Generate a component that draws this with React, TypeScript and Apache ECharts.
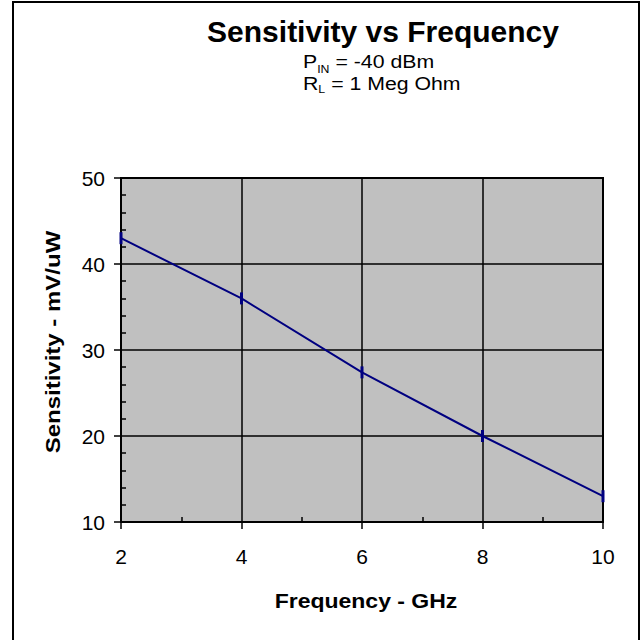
import React, { useEffect, useRef } from "react";
import * as echarts from "echarts";

const frequencies = [2, 4, 6, 8, 10];
const sensitivity = [43, 36, 27.4, 20, 13];
const xTicks = { min: 2, max: 10, interval: 2 };
const yTicks = { min: 10, max: 50, interval: 10 };
const titleText = "Sensitivity vs Frequency";
const subtitle1 = ["P", "IN", " = -40 dBm"];
const subtitle2 = ["R", "L", " = 1 Meg Ohm"];
const xName = "Frequency - GHz";
const yName = "Sensitivity - mV/uW";

const FONT = "'Liberation Sans', Arial, Helvetica, sans-serif";

export default function App() {
  const ref = useRef<HTMLDivElement>(null);
  useEffect(() => {
    if (!ref.current) return;
    const chart = echarts.init(ref.current, null, { renderer: "svg" });
    const data = frequencies.map((f, i) => [f, sensitivity[i]]);
    const black = "#000";
    const mainSize = 19;
    const subSize = 11;
    const measure = (t: string, size: number) =>
      echarts.format.getTextRect
        ? (echarts as any).format.getTextRect(t, `${size}px ${FONT}`).width
        : t.length * size * 0.55;

    const subLine = (parts: string[], y: number, drop: number) => {
      const w0 = measure(parts[0], mainSize);
      const w1 = measure(parts[1], subSize);
      return {
        type: "group",
        x: 303,
        y,
        scaleX: 1.12,
        children: [
          {
            type: "text",
            x: 0,
            y: 0,
            style: { text: parts[0], font: `${mainSize}px ${FONT}`, fill: black, align: "left", verticalAlign: "middle" },
          },
          {
            type: "text",
            x: w0,
            y: drop,
            style: { text: parts[1], font: `${subSize}px ${FONT}`, fill: black, align: "left", verticalAlign: "middle" },
          },
          {
            type: "text",
            x: w0 + w1,
            y: 0,
            style: { text: parts[2], font: `${mainSize}px ${FONT}`, fill: black, align: "left", verticalAlign: "middle" },
          },
        ],
      };
    };

    const option: any = {
      animation: false,
      backgroundColor: "#fff",
      textStyle: { fontFamily: FONT },
      grid: {
        left: 121,
        top: 178,
        right: 41,
        bottom: 118,
        show: true,
        backgroundColor: "#c0c0c0",
        borderColor: black,
        borderWidth: 2,
      },
      xAxis: [
        {
          type: "value",
          ...xTicks,
          axisLine: { show: true, onZero: false, lineStyle: { color: black, width: 2 } },
          axisTick: { show: true, inside: false, length: 7, lineStyle: { color: black, width: 1.5 } },
          axisLabel: { color: black, fontSize: 21, fontFamily: FONT, margin: 24 },
          splitLine: { show: true, lineStyle: { color: black, width: 1.5 } },
          minorTick: { show: false },
        },
        {
          type: "value",
          ...xTicks,
          position: "bottom",
          axisLine: { show: false },
          axisTick: { show: false, inside: true },
          axisLabel: { show: false },
          splitLine: { show: false },
          minorTick: { show: true, splitNumber: 2, length: 5, lineStyle: { color: black, width: 1.5 } },
        },
      ],
      yAxis: [
        {
          type: "value",
          ...yTicks,
          axisLine: { show: true, onZero: false, lineStyle: { color: black, width: 2 } },
          axisTick: { show: true, inside: false, length: 7, lineStyle: { color: black, width: 1.5 } },
          axisLabel: { color: black, fontSize: 21, fontFamily: FONT, margin: 16 },
          splitLine: { show: true, lineStyle: { color: black, width: 1.5 } },
          minorTick: { show: false },
        },
        {
          type: "value",
          ...yTicks,
          position: "left",
          axisLine: { show: false },
          axisTick: { show: false, inside: true },
          axisLabel: { show: false },
          splitLine: { show: false },
          minorTick: { show: true, splitNumber: 5, length: 5, lineStyle: { color: black, width: 1.5 } },
        },
      ],
      series: [
        {
          type: "line",
          data,
          xAxisIndex: 0,
          yAxisIndex: 0,
          lineStyle: { color: "#000080", width: 2 },
          itemStyle: { color: "#000080" },
          symbol: "rect",
          symbolSize: [3, 12],
          showSymbol: true,
          clip: false,
        },
      ],
      graphic: [
        {
          type: "rect",
          z: 100,
          silent: true,
          shape: { x: 13, y: 2, width: 626, height: 700 },
          style: { fill: "transparent", stroke: black, lineWidth: 2 },
        },
        {
          type: "text",
          x: 383,
          y: 31,
          style: {
            text: titleText,
            font: `bold 30px ${FONT}`,
            fill: black,
            align: "center",
            verticalAlign: "middle",
          },
        },
        subLine(subtitle1, 61, 8),
        subLine(subtitle2, 83.5, 5),
        {
          type: "text",
          x: 366,
          y: 601,
          scaleX: 1.15,
          style: {
            text: xName,
            font: `bold 20px ${FONT}`,
            fill: black,
            align: "center",
            verticalAlign: "middle",
          },
        },
        {
          type: "text",
          x: 53,
          y: 342,
          rotation: Math.PI / 2,
          scaleX: 1.2,
          style: {
            text: yName,
            font: `bold 20px ${FONT}`,
            fill: black,
            align: "center",
            verticalAlign: "middle",
          },
        },
      ],
    };
    chart.setOption(option);
    return () => chart.dispose();
  }, []);
  return (
    <div
      ref={ref}
      style={{ position: "absolute", left: 0, top: 0, width: 644, height: 640 }}
    />
  );
}
